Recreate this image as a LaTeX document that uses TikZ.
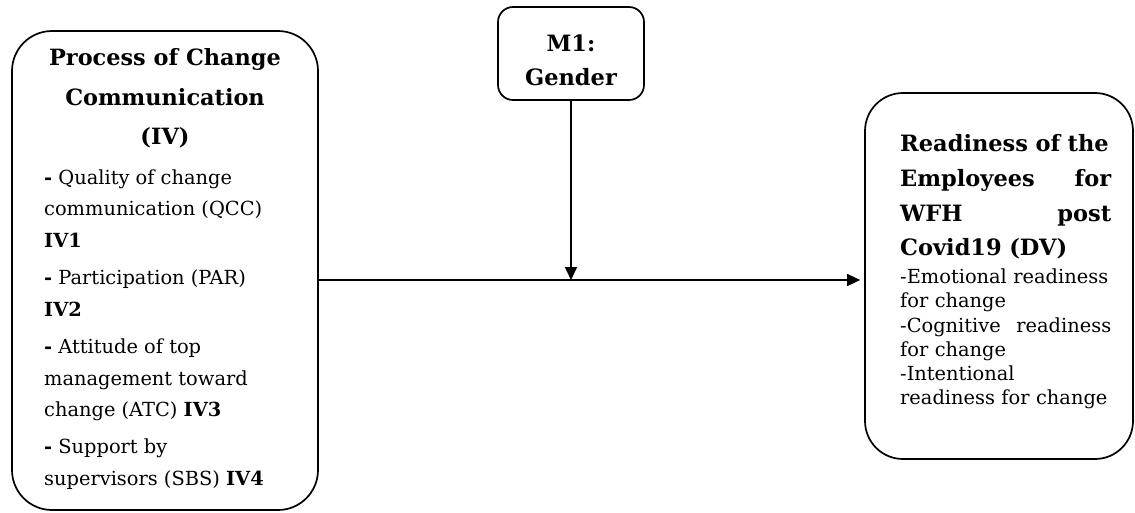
\documentclass[tikz,border=0pt]{standalone}
\usepackage{fontspec}
\setmainfont{DejaVu Serif}
\usetikzlibrary{arrows.meta}
\begin{document}
\begin{tikzpicture}[x=1pt,y=-1pt,
  box/.style={draw, line width=1.7pt, inner sep=0pt},
  txt/.style={inner sep=0pt},
  conn/.style={line width=1.6pt},
  arr/.style={conn, -{Triangle[length=13pt,width=12pt]}}]
\useasboundingbox (0,0) rectangle (1135,512);
% boxes
\node[box, rounded corners=40pt, minimum width=306pt, minimum height=479pt] (iv) at (165,270.5) {};
\node[box, rounded corners=15pt, minimum width=146pt, minimum height=93pt] (m1) at (571,53.5) {};
\node[box, rounded corners=38pt, minimum width=268pt, minimum height=366pt] (dv) at (999,276) {};
% texts
\node[txt, font=\bfseries\fontsize{22.4}{39.5}\selectfont, align=center] (ivt) at (165,98.5) {Process of Change\\Communication\\(IV)};
\node[txt, font=\fontsize{19.4}{31.5}\selectfont, align=left, anchor=west] (ivb) at (44,329.5)
  {\textbf{-} Quality of change\\communication (QCC)\\\textbf{IV1}\\[5.8pt]\textbf{-} Participation (PAR)\\\textbf{IV2}\\[5.8pt]\textbf{-} Attitude of top\\management toward\\change (ATC) \textbf{IV3}\\[5.8pt]\textbf{-} Support by\\supervisors (SBS) \textbf{IV4}};
\node[txt, font=\bfseries\fontsize{22.5}{34}\selectfont, align=center] (m1t) at (571,60) {M1:\\Gender};
\node[txt, font=\bfseries\fontsize{22.5}{34.7}\selectfont, text width=211pt, align=left, anchor=west] (dvt) at (900,197)
  {Readiness of the\\Employees\hfill for\\WFH\hfill post\\Covid19 (DV)};
\node[txt, font=\fontsize{19.4}{24.2}\selectfont, text width=211pt, align=left, anchor=west] (dvb) at (900,339)
  {-Emotional readiness\\for change\\-Cognitive\hfill readiness\\for change\\-Intentional\\readiness for change};
% connectors
\coordinate (j) at (m1.south |- 0,280);
\draw[arr, shorten >=4pt] (iv.east |- j) -- (dv.west |- j);
\draw[arr] (m1.south) -- (j);
\end{tikzpicture}
\end{document}
